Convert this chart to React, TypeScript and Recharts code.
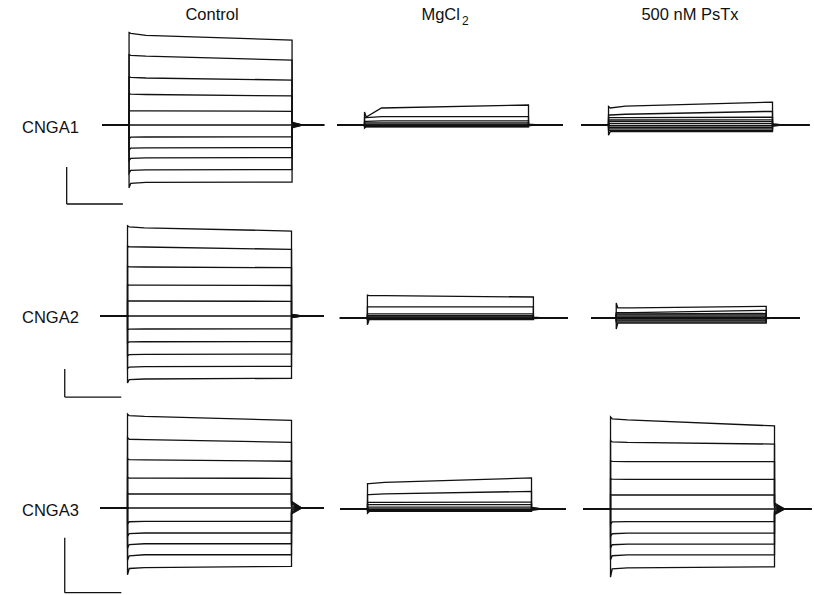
import React from 'react';
import { LineChart, Line, XAxis, YAxis, ReferenceLine } from 'recharts';

// ---------- data ----------
const rowLabels = ['CNGA1', 'CNGA2', 'CNGA3'];
const columnTitles = ['Control', 'MgCl', '500 nM PsTx'];
const columnTitleSubs = ['', '2', ''];

// time points of the voltage protocol (ms)
const PRE_START = -48;
const STEP_ON = 0;
const SETTLE_T = 3;
const EARLY_T = 30;
const STEP_OFF = 290;
const TAIL_END = 308;
const postEnds = [347, 350, 355];

// scale bars: 100 ms, 2 nA
const scaleBarMs = 100;
const scaleBarNA = 2;
const scaleBarStartT = -111;
const scaleBarBottoms = [-4.27, -5.79, -3.08];

// currents (nA), 11 sweeps from top to bottom
// CNGA1
const c1Spike = [5.0, 3.8, 2.6, 1.7, 0.78, 0, -0.75, -1.36, -1.92, -2.6, -3.4];
const c1Onset = [4.95, 3.76, 2.57, 1.67, 0.76, 0, -0.66, -1.25, -1.8, -2.45, -3.15];
const c1Early = [4.84, 3.72, 2.54, 1.65, 0.76, 0, -0.65, -1.24, -1.78, -2.43, -3.1];
const c1Late = [4.59, 3.51, 2.43, 1.57, 0.74, 0, -0.64, -1.22, -1.76, -2.41, -3.08];
const c1Tail = [0.16, 0.12, 0.09, 0.06, 0.03, 0, -0.03, -0.06, -0.09, -0.12, -0.15];

const m1Spike = [0.7, 0.4, 0.2, 0.11, 0.05, 0, -0.02, -0.04, -0.06, -0.08, -0.17];
const m1Onset = [0.43, 0.4, 0.2, 0.11, 0.05, 0, -0.02, -0.04, -0.06, -0.08, -0.1];
const m1Early = [0.92, 0.45, 0.22, 0.11, 0.05, 0, -0.02, -0.04, -0.06, -0.08, -0.1];
const m1Late = [1.08, 0.45, 0.22, 0.11, 0.05, 0, -0.02, -0.04, -0.06, -0.08, -0.1];
const m1Tail = [0.05, 0.03, 0.02, 0.01, 0, 0, 0, -0.01, -0.01, -0.02, -0.03];

const p1Spike = [1.0, 0.54, 0.4, 0.27, 0.18, 0.07, -0.04, -0.13, -0.21, -0.29, -0.55];
const p1Onset = [0.92, 0.54, 0.4, 0.27, 0.18, 0.07, -0.04, -0.13, -0.21, -0.29, -0.36];
const p1Early = [1.02, 0.58, 0.4, 0.27, 0.18, 0.07, -0.04, -0.13, -0.21, -0.29, -0.36];
const p1Late = [1.24, 0.74, 0.42, 0.28, 0.18, 0.07, -0.04, -0.13, -0.21, -0.29, -0.36];
const p1Tail = [0.06, 0.04, 0.03, 0.02, 0.01, 0, -0.01, -0.02, -0.03, -0.04, -0.05];

// CNGA2
const c2Spike = [6.45, 5.0, 3.55, 2.23, 1.08, 0, -0.98, -1.92, -2.84, -3.75, -4.79];
const c2Onset = [6.36, 4.94, 3.51, 2.21, 1.07, 0, -0.94, -1.85, -2.76, -3.65, -4.55];
const c2Early = [6.3, 4.93, 3.5, 2.21, 1.07, 0, -0.93, -1.84, -2.74, -3.62, -4.5];
const c2Late = [6.07, 4.76, 3.45, 2.18, 1.05, 0, -0.92, -1.83, -2.72, -3.6, -4.45];
const c2Tail = [0.12, 0.09, 0.07, 0.05, 0.02, 0, -0.02, -0.05, -0.07, -0.09, -0.12];

const m2Spike = [1.64, 0.79, 0.29, 0.16, 0.07, 0, -0.03, -0.06, -0.08, -0.1, -0.48];
const m2Onset = [1.6, 0.79, 0.29, 0.16, 0.07, 0, -0.03, -0.06, -0.08, -0.1, -0.12];
const m2Early = [1.6, 0.79, 0.29, 0.16, 0.07, 0, -0.03, -0.06, -0.08, -0.1, -0.12];
const m2Late = [1.5, 0.79, 0.29, 0.16, 0.07, 0, -0.03, -0.06, -0.08, -0.1, -0.12];
const m2Tail = [0.06, 0.04, 0.02, 0.01, 0, 0, 0, -0.01, -0.02, -0.03, -0.04];

const p2Spike = [1.07, 0.38, 0.3, 0.22, 0.13, 0.04, -0.05, -0.13, -0.21, -0.29, -0.79];
const p2Onset = [0.72, 0.38, 0.3, 0.22, 0.13, 0.04, -0.05, -0.13, -0.21, -0.29, -0.36];
const p2Early = [0.72, 0.38, 0.3, 0.22, 0.13, 0.04, -0.05, -0.13, -0.21, -0.29, -0.36];
const p2Late = [0.83, 0.55, 0.32, 0.22, 0.13, 0.04, -0.05, -0.13, -0.21, -0.29, -0.36];
const p2Tail = [0.05, 0.03, 0.02, 0.01, 0, 0, 0, -0.01, -0.02, -0.03, -0.04];

// CNGA3
const c3Spike = [3.42, 2.56, 1.79, 1.11, 0.53, 0, -0.58, -1.03, -1.46, -1.9, -2.43];
const c3Onset = [3.36, 2.5, 1.76, 1.09, 0.51, 0, -0.5, -0.93, -1.33, -1.74, -2.2];
const c3Early = [3.33, 2.49, 1.75, 1.09, 0.51, 0, -0.49, -0.91, -1.3, -1.7, -2.17];
const c3Late = [3.19, 2.39, 1.7, 1.08, 0.51, 0, -0.49, -0.91, -1.3, -1.7, -2.12];
const c3Tail = [0.24, 0.19, 0.14, 0.09, 0.04, 0, -0.05, -0.09, -0.14, -0.18, -0.22];

const m3Spike = [0.92, 0.52, 0.24, 0.16, 0.07, 0, -0.02, -0.04, -0.06, -0.07, -0.15];
const m3Onset = [0.92, 0.52, 0.24, 0.16, 0.07, 0, -0.02, -0.04, -0.06, -0.07, -0.09];
const m3Early = [0.97, 0.55, 0.24, 0.16, 0.07, 0, -0.02, -0.04, -0.06, -0.07, -0.09];
const m3Late = [1.13, 0.64, 0.25, 0.16, 0.07, 0, -0.02, -0.04, -0.06, -0.07, -0.09];
const m3Tail = [0.06, 0.04, 0.02, 0.01, 0, 0, 0, -0.01, -0.02, -0.03, -0.04];

const p3Spike = [3.35, 2.48, 1.75, 1.1, 0.52, 0, -0.56, -1.0, -1.42, -1.85, -2.48];
const p3Onset = [3.28, 2.44, 1.73, 1.09, 0.51, 0, -0.47, -0.9, -1.3, -1.7, -2.18];
const p3Early = [3.24, 2.42, 1.72, 1.08, 0.51, 0, -0.46, -0.88, -1.28, -1.67, -2.14];
const p3Late = [3.02, 2.36, 1.72, 1.08, 0.51, 0, -0.46, -0.88, -1.28, -1.67, -2.1];
const p3Tail = [0.22, 0.17, 0.13, 0.08, 0.04, 0, -0.04, -0.09, -0.13, -0.17, -0.21];

const sweeps = [
  [
    [c1Spike, c1Onset, c1Early, c1Late, c1Tail],
    [m1Spike, m1Onset, m1Early, m1Late, m1Tail],
    [p1Spike, p1Onset, p1Early, p1Late, p1Tail],
  ],
  [
    [c2Spike, c2Onset, c2Early, c2Late, c2Tail],
    [m2Spike, m2Onset, m2Early, m2Late, m2Tail],
    [p2Spike, p2Onset, p2Early, p2Late, p2Tail],
  ],
  [
    [c3Spike, c3Onset, c3Early, c3Late, c3Tail],
    [m3Spike, m3Onset, m3Early, m3Late, m3Tail],
    [p3Spike, p3Onset, p3Early, p3Late, p3Tail],
  ],
];

// ---------- layout ----------
const W = 814;
const H = 595;
const T_MIN = -130;
const T_MAX = 360;
const ABOVE = 105;
const BELOW = 95;
const rowPxPerNA = [18.5, 14, 27.5];
const geom = [
  [{ on: 129, off: 292, base: 125 }, { on: 365, off: 529, base: 125 }, { on: 609, off: 773, base: 125 }],
  [{ on: 128, off: 292, base: 316 }, { on: 367, off: 533, base: 318.3 }, { on: 616, off: 766, base: 318.3 }],
  [{ on: 128, off: 292, base: 508.3 }, { on: 368, off: 532, base: 509.3 }, { on: 611, off: 775, base: 509 }],
];
const titleCenters = [212, 445, 690];
const labelTops = [119, 309, 502];
const FONT_SIZE = 16.5;
const INK = '#111';
const FONT = '"Liberation Sans", Arial, sans-serif';

function buildRows(spike: number[], onset: number[], early: number[], late: number[], tail: number[], postEnd: number) {
  const zeros = onset.map(() => 0);
  const row = (t: number, vals: number[]) => {
    const r: Record<string, number> = { t };
    vals.forEach((v, i) => {
      r['v' + i] = v;
    });
    return r;
  };
  return [
    row(PRE_START, zeros),
    row(STEP_ON, zeros),
    row(STEP_ON, spike),
    row(SETTLE_T, onset),
    row(EARLY_T, early),
    row(STEP_OFF, late),
    row(STEP_OFF, tail),
    row(TAIL_END, zeros),
    row(postEnd, zeros),
  ];
}

function Panel({ r, c }: { r: number; c: number }) {
  const g = geom[r][c];
  const s = rowPxPerNA[r];
  const ppm = (g.off - g.on) / (STEP_OFF - STEP_ON);
  const left = g.on + T_MIN * ppm;
  const width = (T_MAX - T_MIN) * ppm;
  const top = g.base - ABOVE;
  const height = ABOVE + BELOW;
  const [spike, onset, early, late, tail] = sweeps[r][c];
  const data = buildRows(spike, onset, early, late, tail, postEnds[c]);
  const sbBottom = scaleBarBottoms[r];
  return (
    <div style={{ position: 'absolute', left, top }}>
      <LineChart width={width} height={height} data={data} margin={{ top: 0, right: 0, bottom: 0, left: 0 }}>
        <XAxis type="number" dataKey="t" domain={[T_MIN, T_MAX]} hide allowDataOverflow />
        <YAxis type="number" domain={[-BELOW / s, ABOVE / s]} hide allowDataOverflow />
        {onset.map((_, i) => (
          <Line
            key={i}
            dataKey={'v' + i}
            type="linear"
            stroke={INK}
            strokeWidth={1.3}
            dot={false}
            activeDot={false}
            isAnimationActive={false}
          />
        ))}
        {c === 0 && (
          <ReferenceLine
            segment={[
              { x: scaleBarStartT, y: sbBottom + scaleBarNA },
              { x: scaleBarStartT, y: sbBottom },
            ]}
            stroke={INK}
            strokeWidth={1.3}
          />
        )}
        {c === 0 && (
          <ReferenceLine
            segment={[
              { x: scaleBarStartT, y: sbBottom },
              { x: scaleBarStartT + scaleBarMs, y: sbBottom },
            ]}
            stroke={INK}
            strokeWidth={1.3}
          />
        )}
      </LineChart>
    </div>
  );
}

export default function App() {
  return (
    <div
      style={{
        position: 'absolute',
        left: 0,
        top: 0,
        width: W,
        height: H,
        overflow: 'hidden',
        background: '#fff',
        fontFamily: FONT,
        color: INK,
      }}
    >
      {columnTitles.map((t, i) => (
        <div
          key={t}
          style={{
            position: 'absolute',
            left: titleCenters[i] - 100,
            width: 200,
            top: 6,
            textAlign: 'center',
            fontSize: FONT_SIZE,
            lineHeight: FONT_SIZE + 'px',
            whiteSpace: 'nowrap',
          }}
        >
          {t}
          {columnTitleSubs[i] && (
            <span style={{ fontSize: 12, position: 'relative', top: 5, marginLeft: 2 }}>{columnTitleSubs[i]}</span>
          )}
        </div>
      ))}
      {rowLabels.map((l, i) => (
        <div
          key={l}
          style={{
            position: 'absolute',
            left: 22,
            top: labelTops[i],
            fontSize: FONT_SIZE,
            lineHeight: FONT_SIZE + 'px',
            whiteSpace: 'nowrap',
          }}
        >
          {l}
        </div>
      ))}
      {geom.map((row, r) => row.map((_, c) => <Panel key={r + '-' + c} r={r} c={c} />))}
    </div>
  );
}
